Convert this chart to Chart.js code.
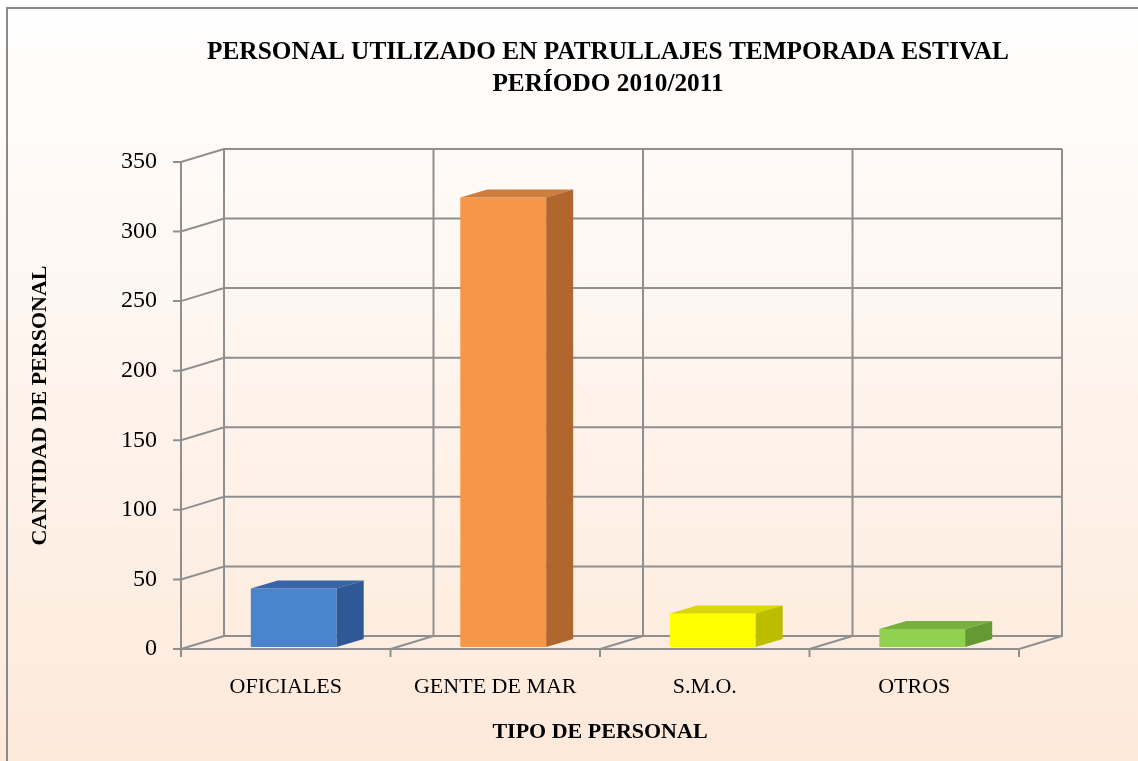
<!DOCTYPE html>
<html>
<head>
<meta charset="utf-8">
<script src="https://cdn.jsdelivr.net/npm/chart.js@4.4.1/dist/chart.umd.min.js"></script>
<style>
  html, body { margin: 0; padding: 0; overflow: hidden; background: #fff; }
  #caja { position: relative; width: 1138px; height: 761px; }
</style>
</head>
<body>
<div id="caja"><canvas id="graficoPersonal"></canvas></div>
<script>
// Datos del gráfico
var categorias = ['OFICIALES', 'GENTE DE MAR', 'S.M.O.', 'OTROS'];
var cantidades = [42, 323, 24, 13];
var marcasEje = [0, 50, 100, 150, 200, 250, 300, 350];

// Colores de cada cara de las barras
var colorFrente = ['#4a84cc', '#f79646', '#ffff00', '#92d050'];
var colorClaro = ['#5a93d8', '#f9a55c', '#ffff3a', '#a0da62'];
var colorTapa = ['#3864a8', '#cd7d3c', '#d8d800', '#78b040'];
var colorLado = ['#2f5896', '#b0662c', '#bdbd00', '#659a33'];

// Profundidad de las paredes y de las barras (efecto 3D)
var PARED = { dx: 43, dy: -13 };
var BARRA = { dx: 8, dy: -2, fx: 27, fy: -8 };
var GRIS = '#8f8f8f';

// relleno del frente con una franja algo más clara
function frente(ctx) {
    var i = ctx.dataIndex;
    var el = ctx.element;
    if (!el || el.width === undefined) return colorFrente[i];
    var l = el.x - el.width / 2, r = el.x + el.width / 2;
    var g = ctx.chart.ctx.createLinearGradient(l, 0, r, 0);
    g.addColorStop(0, colorFrente[i]);
    g.addColorStop(0.4, colorClaro[i]);
    g.addColorStop(1, colorFrente[i]);
    return g;
}

var efecto3d = {
    id: 'efecto3d',
    beforeDraw: function (chart) {
        var c = chart.ctx;
        var g = c.createLinearGradient(0, 0, 0, chart.height);
        g.addColorStop(0, '#ffffff');
        g.addColorStop(1, '#fde9da');
        c.save();
        c.fillStyle = g;
        c.fillRect(0, 0, chart.width, chart.height);
        c.strokeStyle = '#8a8a8a';
        c.lineWidth = 2;
        c.strokeRect(7, 8, chart.width + 20, chart.height + 20);
        c.restore();
    },
    beforeDatasetsDraw: function (chart) {
        var c = chart.ctx, x = chart.scales.x, y = chart.scales.y;
        var izq = x.left, der = x.right;
        var base = y.getPixelForValue(0);
        var tope = y.getPixelForValue(marcasEje[marcasEje.length - 1]);
        var banda = (der - izq) / categorias.length;

        c.save();
        c.strokeStyle = GRIS;
        c.lineWidth = 2;
        c.beginPath();
        // marcas del eje, pared lateral y líneas del fondo
        marcasEje.forEach(function (v) {
            var py = y.getPixelForValue(v);
            c.moveTo(izq - 8, py);
            c.lineTo(izq, py);
            c.lineTo(izq + PARED.dx, py + PARED.dy);
            c.lineTo(der + PARED.dx, py + PARED.dy);
        });
        // eje vertical frontal y borde del piso
        c.moveTo(izq, tope);
        c.lineTo(izq, base + 8);
        c.moveTo(izq, base);
        c.lineTo(der, base);
        // divisiones entre categorías
        for (var i = 0; i <= categorias.length; i++) {
            var bx = i < categorias.length ? x.getPixelForValue(i) - banda / 2 : der;
            c.moveTo(bx, base + 8);
            c.lineTo(bx, base);
            c.lineTo(bx + PARED.dx, base + PARED.dy);
            c.lineTo(bx + PARED.dx, tope + PARED.dy);
        }
        c.stroke();
        c.restore();

        // las barras se dibujan un poco hacia el fondo
        c.save();
        c.translate(BARRA.dx, BARRA.dy);
    },
    afterDatasetsDraw: function (chart) {
        var c = chart.ctx;
        c.restore();
        var barras = chart.getDatasetMeta(0).data;
        c.save();
        barras.forEach(function (b, i) {
            var p = b.getProps(['x', 'y', 'base', 'width'], true);
            var l = p.x - p.width / 2 + BARRA.dx;
            var r = p.x + p.width / 2 + BARRA.dx;
            var t = p.y + BARRA.dy;
            var bo = p.base + BARRA.dy;
            // tapa
            c.fillStyle = colorTapa[i];
            c.beginPath();
            c.moveTo(l, t);
            c.lineTo(r, t);
            c.lineTo(r + BARRA.fx, t + BARRA.fy);
            c.lineTo(l + BARRA.fx, t + BARRA.fy);
            c.closePath();
            c.fill();
            // costado
            c.fillStyle = colorLado[i];
            c.beginPath();
            c.moveTo(r, t);
            c.lineTo(r + BARRA.fx, t + BARRA.fy);
            c.lineTo(r + BARRA.fx, bo + BARRA.fy);
            c.lineTo(r, bo);
            c.closePath();
            c.fill();
        });
        c.restore();
    }
};

var fuente = "'Liberation Serif', 'Times New Roman', serif";

new Chart(document.getElementById('graficoPersonal'), {
    type: 'bar',
    data: {
        labels: categorias,
        datasets: [{
            data: cantidades,
            backgroundColor: frente,
            borderWidth: 0,
            barPercentage: 0.41,
            categoryPercentage: 1,
            clip: false
        }]
    },
    options: {
        responsive: true,
        maintainAspectRatio: false,
        animation: false,
        // el título queda centrado algo a la derecha del área del gráfico
        layout: { padding: { left: 0, right: -78, top: 0, bottom: 0 } },
        plugins: {
            legend: { display: false },
            tooltip: { enabled: false },
            title: {
                display: true,
                text: ['PERSONAL UTILIZADO EN PATRULLAJES TEMPORADA ESTIVAL', 'PERÍODO 2010/2011'],
                color: '#000',
                font: { family: fuente, size: 25.3, weight: 'bold', lineHeight: 1.28 },
                padding: { top: 36, bottom: 61.2 }
            }
        },
        scales: {
            x: {
                grid: { display: false, drawTicks: false },
                border: { display: false },
                ticks: { color: '#000', padding: 25, font: { family: fuente, size: 22 } },
                title: {
                    display: true,
                    text: 'TIPO DE PERSONAL',
                    color: '#000',
                    font: { family: fuente, size: 22, weight: 'bold' },
                    padding: { top: 0, bottom: 15 }
                },
                afterFit: function (s) { s.height = 112; }
            },
            y: {
                min: 0,
                max: 350,
                grid: { display: false, drawTicks: false },
                border: { display: false },
                ticks: { stepSize: 50, color: '#000', padding: 24, font: { family: fuente, size: 24 } },
                title: {
                    display: true,
                    text: 'CANTIDAD DE PERSONAL',
                    color: '#000',
                    font: { family: fuente, size: 22, weight: 'bold' },
                    padding: { top: 27, bottom: 0 }
                },
                afterFit: function (s) { s.width = 181; }
            },
            derecha: {
                position: 'right',
                display: true,
                grid: { display: false, drawTicks: false },
                border: { display: false },
                ticks: { display: false },
                afterFit: function (s) { s.width = 197; }
            }
        }
    },
    plugins: [efecto3d]
});
</script>
</body>
</html>
